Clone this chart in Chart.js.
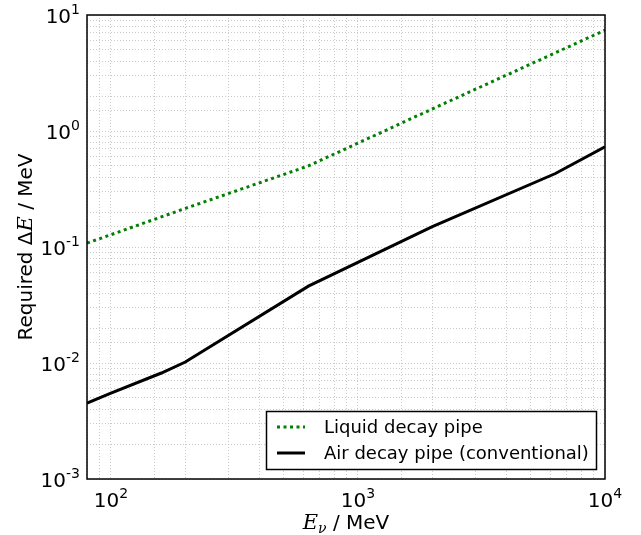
<!DOCTYPE html>
<html><head><meta charset="utf-8">
<script src="https://cdn.jsdelivr.net/npm/chart.js@4/dist/chart.umd.min.js"></script>
<style>html,body{margin:0;padding:0;background:#fff;}#wrap{width:641px;height:535px;}</style>
</head><body><div id="wrap"><canvas id="c" width="641" height="535"></canvas></div>
<script>
// ---- data ----
const liquidEnergy = [80, 200, 630, 2000, 10000];
const liquidDeltaE = [0.108, 0.215, 0.50, 1.55, 7.4];
const airEnergy = [80, 100, 160, 200, 630, 2000, 6300, 10000];
const airDeltaE = [0.0045, 0.0055, 0.0082, 0.0102, 0.046, 0.15, 0.43, 0.73];
const seriesLabels = ['Liquid decay pipe', 'Air decay pipe (conventional)'];
const xTickValues = [100, 1000, 10000];
const xTickExps = ['2', '3', '4'];
const yTickValues = [0.001, 0.01, 0.1, 1, 10];
const yTickExps = ['-3', '-2', '-1', '0', '1'];
const xRange = [80, 10000];
const yRange = [0.001, 10];

const toPts = (xs, ys) => xs.map((x, i) => ({x: x, y: ys[i]}));

const SANS = '"DejaVu Sans", sans-serif';
const SERIF = '"DejaVu Serif", serif';

function drawPow(ctx, exp, x, baseY, align, raise) {
  ctx.font = '20px ' + SANS;
  const wMain = ctx.measureText('10').width;
  ctx.font = '14px ' + SANS;
  const wSup = ctx.measureText(exp).width;
  const total = wMain + wSup;
  let sx = align === 'right' ? x - total : x - total / 2;
  ctx.textAlign = 'left';
  ctx.textBaseline = 'alphabetic';
  ctx.fillStyle = '#000';
  ctx.font = '20px ' + SANS;
  ctx.fillText('10', sx, baseY);
  ctx.font = '14px ' + SANS;
  ctx.fillText(exp, sx + wMain, baseY - raise);
}

const decor = {
  id: 'decor',
  afterDraw(chart) {
    const ctx = chart.ctx;
    const a = chart.chartArea;
    const xs = chart.scales.x, ys = chart.scales.y;
    ctx.save();
    // frame
    ctx.strokeStyle = '#000';
    ctx.lineWidth = 1.5;
    ctx.strokeRect(a.left, a.top, a.right - a.left, a.bottom - a.top);
    // y tick labels
    yTickValues.forEach((v, i) => {
      const py = ys.getPixelForValue(v);
      drawPow(ctx, yTickExps[i], 80, py + 7.5, 'right', 8.5);
    });
    // x tick labels
    xTickValues.forEach((v, i) => {
      const px = xs.getPixelForValue(v);
      drawPow(ctx, xTickExps[i], px, 507, 'center', 9.5);
    });
    // x title
    {
      const parts = [
        {t: 'E', f: 'italic 21px ' + SERIF, dy: 0},
        {t: 'ν', f: 'italic 14px ' + SERIF, dy: 4},
        {t: ' / MeV', f: '20px ' + SANS, dy: 0}
      ];
      let total = 0;
      parts.forEach(p => { ctx.font = p.f; p.w = ctx.measureText(p.t).width; total += p.w; });
      let sx = (a.left + a.right) / 2 - total / 2;
      ctx.textAlign = 'left'; ctx.textBaseline = 'alphabetic'; ctx.fillStyle = '#000';
      parts.forEach(p => { ctx.font = p.f; ctx.fillText(p.t, sx, 529 + p.dy); sx += p.w; });
    }
    // y title
    {
      ctx.save();
      ctx.translate(32, (a.top + a.bottom) / 2);
      ctx.rotate(-Math.PI / 2);
      const parts = [
        {t: 'Required Δ', f: '20px ' + SANS},
        {t: 'E', f: 'italic 21px ' + SERIF},
        {t: ' / MeV', f: '20px ' + SANS}
      ];
      let total = 0;
      parts.forEach(p => { ctx.font = p.f; p.w = ctx.measureText(p.t).width; total += p.w; });
      let sx = -total / 2;
      ctx.textAlign = 'left'; ctx.textBaseline = 'alphabetic'; ctx.fillStyle = '#000';
      parts.forEach(p => { ctx.font = p.f; ctx.fillText(p.t, sx, 0); sx += p.w; });
      ctx.restore();
    }
    // legend
    {
      const bx = 266.5, by = 411.5, bw = 330, bh = 58;
      ctx.fillStyle = '#fff';
      ctx.fillRect(bx, by, bw, bh);
      ctx.strokeStyle = '#000';
      ctx.lineWidth = 1.5;
      ctx.strokeRect(bx, by, bw, bh);
      const rows = [427, 453];
      chart.data.datasets.forEach((ds, i) => {
        ctx.beginPath();
        ctx.strokeStyle = ds.borderColor;
        ctx.lineWidth = ds.borderWidth;
        ctx.setLineDash(ds.borderDash || []);
        ctx.moveTo(277, rows[i]);
        ctx.lineTo(305, rows[i]);
        ctx.stroke();
        ctx.setLineDash([]);
        ctx.fillStyle = '#000';
        ctx.font = '18px ' + SANS;
        ctx.textAlign = 'left';
        ctx.textBaseline = 'middle';
        ctx.fillText(ds.label, 324, rows[i] + 1);
      });
    }
    ctx.restore();
  }
};

const gridCommon = {
  display: true,
  color: '#bdbdbd',
  lineWidth: 0.8,
  drawTicks: false
};

new Chart(document.getElementById('c'), {
  type: 'line',
  data: {
    datasets: [
      {
        label: seriesLabels[0],
        data: toPts(liquidEnergy, liquidDeltaE),
        borderColor: '#008000',
        borderWidth: 3,
        borderDash: [3, 3.5],
        pointRadius: 0,
        tension: 0,
        fill: false
      },
      {
        label: seriesLabels[1],
        data: toPts(airEnergy, airDeltaE),
        borderColor: '#000000',
        borderWidth: 3,
        pointRadius: 0,
        tension: 0,
        fill: false
      }
    ]
  },
  options: {
    responsive: false,
    animation: false,
    devicePixelRatio: 1,
    layout: {padding: {left: 87, top: 15, right: 36, bottom: 56}},
    plugins: {legend: {display: false}, tooltip: {enabled: false}},
    scales: {
      x: {
        type: 'logarithmic',
        min: xRange[0], max: xRange[1],
        grid: gridCommon,
        border: {display: false, dash: [1, 2]},
        ticks: {display: false}
      },
      y: {
        type: 'logarithmic',
        min: yRange[0], max: yRange[1],
        grid: gridCommon,
        border: {display: false, dash: [1, 2]},
        ticks: {display: false}
      }
    }
  },
  plugins: [decor]
});
</script>
</body></html>
